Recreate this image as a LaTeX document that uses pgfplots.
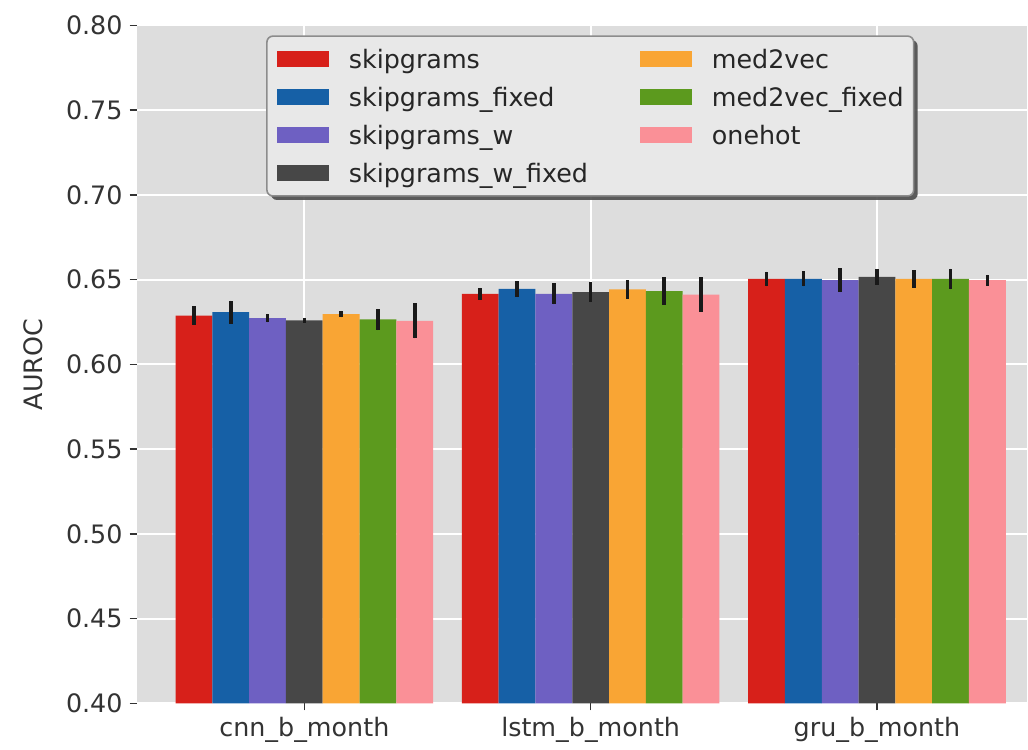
\documentclass[border=0pt]{standalone}
\usepackage{pgfplots}
\pgfplotsset{compat=1.18}
\usepackage{fontspec}
\setmainfont{DejaVu Sans}
\usetikzlibrary{shadows}
\definecolor{cRed}{HTML}{D7201A}
\definecolor{cBlue}{HTML}{1660A6}
\definecolor{cPurple}{HTML}{6E60C2}
\definecolor{cDark}{HTML}{474747}
\definecolor{cOrange}{HTML}{F9A534}
\definecolor{cGreen}{HTML}{5C9A1E}
\definecolor{cPink}{HTML}{FA9097}
\definecolor{bgGray}{HTML}{DDDDDD}
\definecolor{txtGray}{HTML}{333333}
\begin{document}
\begin{tikzpicture}
\newcommand{\lgimg}[1]{\addlegendimage{legend image code/.code={\pgfsetcornersarced{\pgfpointorigin}\pgfsetfillcolor{#1}\pgfpathrectangle{\pgfpoint{0pt}{-4pt}}{\pgfpoint{26pt}{8pt}}\pgfusepath{fill}}}}
\begin{axis}[
  scale only axis,
  width=445.65pt, height=339.25pt,
  xmin=-0.586, xmax=2.524,
  ymin=0.40, ymax=0.80,
  ytick={0.40,0.45,...,0.801},
  xtick={0,1,2},
  xticklabels={cnn\_b\_month, lstm\_b\_month, gru\_b\_month},
  yticklabel style={/pgf/number format/.cd, fixed, fixed zerofill, precision=2, assume math mode=true},
  ticklabel style={font=\fontsize{12.7}{15}\selectfont, text=txtGray},
  tick align=outside,
  xtick pos=bottom, ytick pos=left,
  major tick length=3.5pt,
  tick style={txtGray, line width=0.8pt},
  axis line style={draw=none},
  axis background/.style={fill=bgGray},
  grid=major,
  major grid style={white, line width=1pt},
  every axis y label/.style={at={(rel axis cs:0,0.5)}, xshift=-51.5pt, rotate=90, anchor=center, font=\fontsize{12.7}{15}\selectfont, text=txtGray},
  ylabel={AUROC},
  ybar, bar width=18.42pt,
  error bars/y dir=both, error bars/y explicit,
  error bars/error mark=none,
  error bars/error bar style={line width=1.8pt, color=black!90},
  legend columns=2,
  legend style={at={(rel axis cs:0.1455,0.9855)}, anchor=north west,
    font=\fontsize{12.7}{15}\selectfont, text=black!85,
    fill=black!9, draw=black!45, line width=0.8pt, rounded corners=3pt,
    drop shadow={shadow xshift=2pt, shadow yshift=-2pt, fill=black!70, opacity=0.9},
    inner xsep=5pt, inner ysep=2pt,
    nodes={inner ysep=0pt, inner xsep=0pt, minimum height=19pt, text depth=0pt},
    /tikz/every odd column/.append style={column sep=10pt},
    /tikz/every even column/.append style={column sep=26pt},
    cells={anchor=west}},
]
\addplot[fill=cRed, draw=none, forget plot, bar shift=-55.26pt] coordinates {(0,0.6288) +- (0,0.0055) (1,0.6416) +- (0,0.0035) (2,0.6504) +- (0,0.0044)};
\addplot[fill=cBlue, draw=none, forget plot, bar shift=-36.84pt] coordinates {(0,0.6308) +- (0,0.0068) (1,0.6445) +- (0,0.0048) (2,0.6505) +- (0,0.0045)};
\addplot[fill=cPurple, draw=none, forget plot, bar shift=-18.42pt] coordinates {(0,0.6273) +- (0,0.0025) (1,0.6416) +- (0,0.0062) (2,0.6497) +- (0,0.0071)};
\addplot[fill=cDark, draw=none, forget plot, bar shift=0pt] coordinates {(0,0.6260) +- (0,0.0014) (1,0.6426) +- (0,0.0058) (2,0.6516) +- (0,0.0046)};
\addplot[fill=cOrange, draw=none, forget plot, bar shift=18.42pt] coordinates {(0,0.6297) +- (0,0.0019) (1,0.6442) +- (0,0.0056) (2,0.6504) +- (0,0.0052)};
\addplot[fill=cGreen, draw=none, forget plot, bar shift=36.84pt] coordinates {(0,0.6265) +- (0,0.0063) (1,0.6432) +- (0,0.0081) (2,0.6504) +- (0,0.0061)};
\addplot[fill=cPink, draw=none, forget plot, bar shift=55.26pt] coordinates {(0,0.6257) +- (0,0.0104) (1,0.6412) +- (0,0.0101) (2,0.6497) +- (0,0.0032)};
\lgimg{cRed}\addlegendentry{skipgrams}
\lgimg{cOrange}\addlegendentry{med2vec}
\lgimg{cBlue}\addlegendentry{skipgrams\_fixed}
\lgimg{cGreen}\addlegendentry{med2vec\_fixed}
\lgimg{cPurple}\addlegendentry{skipgrams\_w}
\lgimg{cPink}\addlegendentry{onehot}
\lgimg{cDark}\addlegendentry{skipgrams\_w\_fixed}
\addlegendimage{empty legend}\addlegendentry{}
\end{axis}
\path[use as bounding box] (-68.35pt,-22pt) rectangle (445.65pt,352pt);
\end{tikzpicture}
\end{document}
